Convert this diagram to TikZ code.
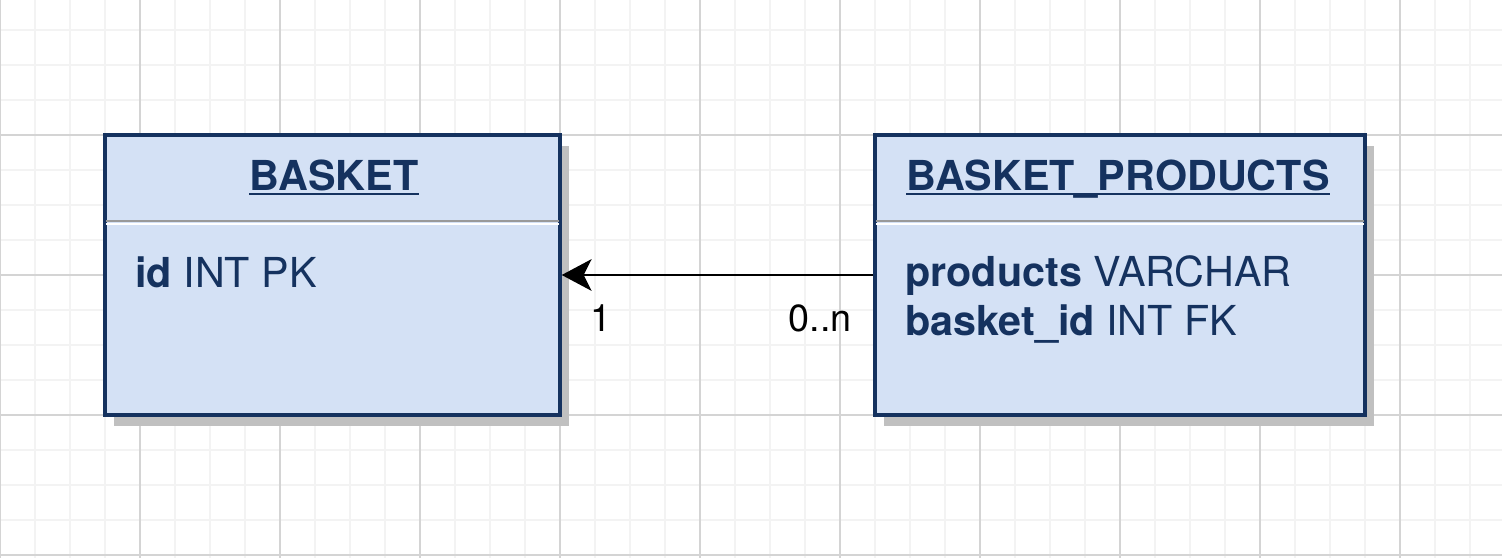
\documentclass[tikz,border=0pt]{standalone}
\usepackage{fontspec}
\setmainfont{TeX Gyre Heros}
\usetikzlibrary{arrows.meta,positioning,shadows}
\definecolor{tablefill}{HTML}{D4E1F5}
\definecolor{tableline}{HTML}{15325F}
\definecolor{gridmajor}{HTML}{D4D4D4}
\definecolor{gridminor}{HTML}{F3F3F3}
\definecolor{shadowgray}{HTML}{C0C0C0}
\tikzset{
  tablebox/.style={draw=tableline,fill=tablefill,line width=2pt,inner sep=0pt,
    drop shadow={shadow xshift=5pt,shadow yshift=-6pt,fill=shadowgray,opacity=1}},
  titletext/.style={text=tableline,inner sep=0pt,font=\fontsize{23.5}{28}\selectfont\bfseries},
  fieldtext/.style={text=tableline,inner sep=0pt,anchor=base west,font=\fontsize{23.5}{28}\selectfont},
  cardtext/.style={text=black,inner sep=0pt,font=\fontsize{21.5}{26}\selectfont},
  divider/.style={draw=black!40,line width=1.2pt},
  relation/.style={draw=black,line width=1.3pt,-{Stealth[length=17pt,width=18pt,inset=4.5pt]}}
}
\begin{document}
\begin{tikzpicture}[x=0.02cm,y=-0.02cm]
\useasboundingbox (0,0) rectangle (1502,558);
\fill[white] (0,0) rectangle (1502,558);
\foreach \i in {0,...,42} \draw[gridminor,line width=0.7pt] (35*\i,0) -- (35*\i,558);
\foreach \j in {0,...,15} \draw[gridminor,line width=0.7pt] (0,30+35*\j) -- (1502,30+35*\j);
\foreach \i in {0,...,10} \draw[gridmajor,line width=0.6pt] (140*\i,0) -- (140*\i,558);
\foreach \j in {0,...,3} \draw[gridmajor,line width=0.6pt] (0,135+140*\j) -- (1502,135+140*\j);

\node[tablebox,minimum width=9.1cm,minimum height=5.6cm] (basket) at (332.5,275) {};
\node[tablebox,minimum width=9.8cm,minimum height=5.6cm] (basketproducts) at (1120,275) {};

\draw[divider] (106,221) -- (559,221); \draw[white,line width=1pt] (106,224) -- (559,224);
\draw[divider] (876,221) -- (1364,221); \draw[white,line width=1pt] (876,224) -- (1364,224);

\node[titletext,anchor=base] (baskettitle) at (334,190) {BASKET};
\node[titletext,anchor=base] (basketproductstitle) at (1118,190) {BASKET\_PRODUCTS};
\draw[tableline,line width=1.3pt] ([yshift=-2.4pt]baskettitle.base west) -- ([yshift=-2.4pt]baskettitle.base east);
\draw[tableline,line width=1.3pt] ([yshift=-2.4pt]basketproductstitle.base west) -- ([yshift=-2.4pt]basketproductstitle.base east);

\node[fieldtext] (idfield) at (135,287) {\textbf{id} INT PK};
\node[fieldtext] (productsfield) at (905,286) {\textbf{products} VARCHAR};
\node[fieldtext] (basketidfield) at (905,335) {\textbf{basket\_id} INT FK};

\draw[relation] (basketproducts.west) -- (basket.east);
\node[cardtext,anchor=base west] (onelabel) at (590,331) {1};
\node[cardtext,anchor=base east] (manylabel) at (852,331) {0..n};
\end{tikzpicture}
\end{document}
